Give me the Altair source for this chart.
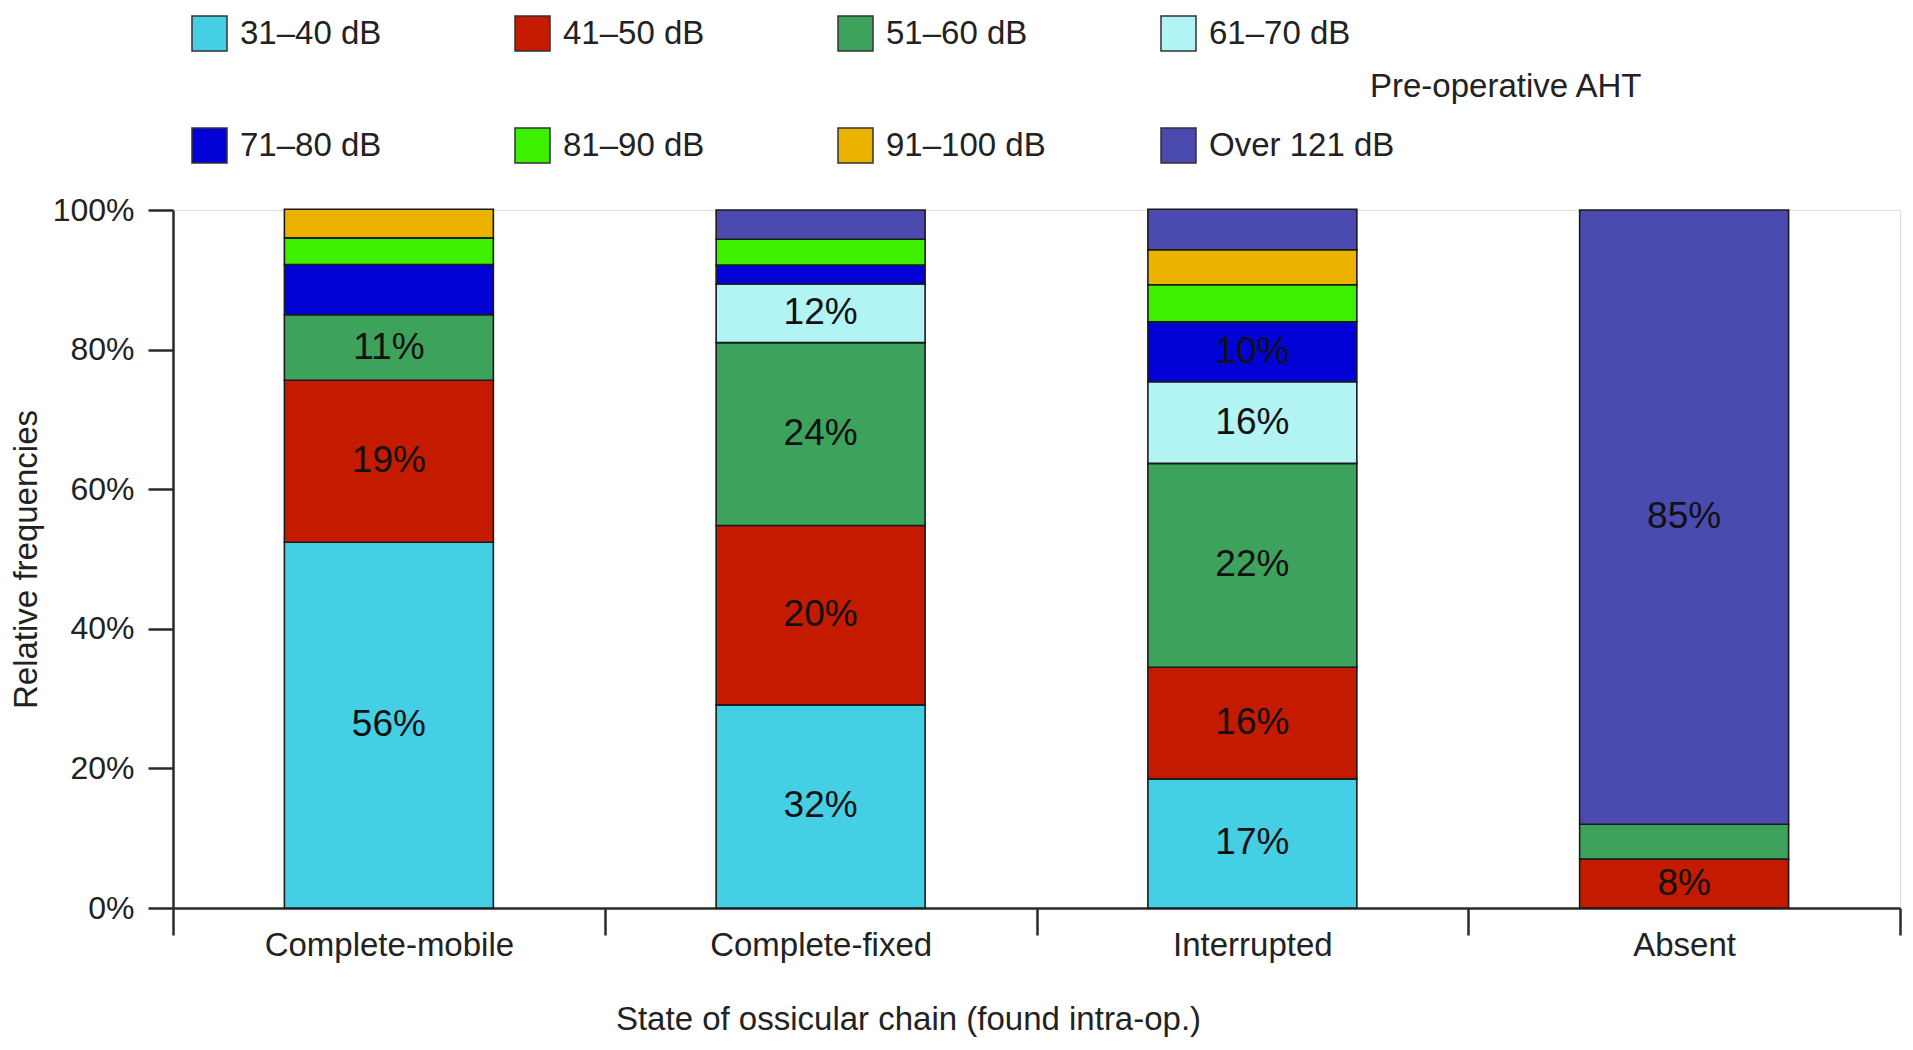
import altair as alt
import pandas as pd

categories = ["Complete-mobile", "Complete-fixed", "Interrupted", "Absent"]
levels = ["31–40 dB", "41–50 dB", "51–60 dB", "61–70 dB",
          "71–80 dB", "81–90 dB", "91–100 dB", "Over 121 dB"]
colors = ["#44CFE5", "#C41A00", "#3DA25C", "#B2F4F4",
          "#0202D6", "#3CF000", "#EBB300", "#4A4AAF"]

# drawn segment heights (% of bar), per hearing-threshold level, one value per category
v_31_40 = [52.4, 29.1, 18.5, 0.0]
v_41_50 = [23.2, 25.7, 16.0, 7.0]
v_51_60 = [9.4, 26.2, 29.2, 5.0]
v_61_70 = [0.0, 8.4, 11.7, 0.0]
v_71_80 = [7.2, 2.7, 8.6, 0.0]
v_81_90 = [3.8, 3.7, 5.3, 0.0]
v_91_100 = [4.1, 0.0, 5.0, 0.0]
v_over_121 = [0.0, 4.2, 5.8, 88.0]

# printed labels inside the segments
l_31_40 = ["56%", "32%", "17%", ""]
l_41_50 = ["19%", "20%", "16%", "8%"]
l_51_60 = ["11%", "24%", "22%", ""]
l_61_70 = ["", "12%", "16%", ""]
l_71_80 = ["", "", "10%", ""]
l_81_90 = ["", "", "", ""]
l_91_100 = ["", "", "", ""]
l_over_121 = ["", "", "", "85%"]

legend_title = "Pre-operative AHT"
x_title = "State of ossicular chain (found intra-op.)"
y_title = "Relative frequencies"
y_ticks = [0, 20, 40, 60, 80, 100]

all_values = [v_31_40, v_41_50, v_51_60, v_61_70, v_71_80, v_81_90, v_91_100, v_over_121]
all_labels = [l_31_40, l_41_50, l_51_60, l_61_70, l_71_80, l_81_90, l_91_100, l_over_121]

rows = []
for li, (lev, vals, labs) in enumerate(zip(levels, all_values, all_labels)):
    for ci, cat in enumerate(categories):
        rows.append({"cat": cat, "level": lev, "order": li,
                     "value": vals[ci], "label": labs[ci]})
df = pd.DataFrame(rows)

FONT = "Liberation Sans"
AX = "#2a2a2a"

base = (
    alt.Chart(df)
    .transform_filter(alt.datum.value > 0)
    .transform_stack(stack="value", groupby=["cat"], as_=["y0", "y1"],
                     sort=[alt.SortField("order", order="ascending")])
    .transform_calculate(mid="(datum.y0 + datum.y1) / 2")
)

x_axis = alt.Axis(
    title=x_title, tickBand="extent", tickSize=27, tickWidth=2.5, tickColor=AX,
    domainWidth=2.5, domainColor=AX, labelAngle=0, labelFontSize=33,
    labelColor="#222", labelFont=FONT, labelLimit=600, labelPadding=10,
    labelBaseline="middle", titleFontSize=33, titleFontWeight="normal",
    titleFont=FONT, titleColor="#222", titleX=735, titleY=111,
    titleAlign="center", titleBaseline="middle", grid=False,
)
y_axis = alt.Axis(
    title=y_title, values=y_ticks, labelExpr="datum.value + '%'",
    tickSize=25, tickWidth=2.5, tickColor=AX, domainWidth=2.5, domainColor=AX,
    labelFontSize=32, labelColor="#222", labelFont=FONT, labelPadding=14,
    titleFontSize=33, titleFontWeight="normal", titleFont=FONT, titleColor="#222",
    titleX=-147, titleY=349, titleAngle=270, titleAlign="center",
    titleBaseline="middle", grid=False,
)
x_scale = alt.Scale(domain=categories, paddingInner=0, paddingOuter=0)
y_scale = alt.Scale(domain=[0, 100], nice=False)

bars = base.mark_bar(
    stroke="#1a1a1a", strokeWidth=1.6, width=alt.RelativeBandSize(0.484)
).encode(
    x=alt.X("cat:N", sort=categories, scale=x_scale, axis=x_axis),
    y=alt.Y("y1:Q", scale=y_scale, axis=y_axis),
    y2="y0:Q",
    color=alt.Color(
        "level:N",
        scale=alt.Scale(domain=levels, range=colors),
        legend=alt.Legend(
            title=None, orient="none", legendX=18, legendY=-195,
            direction="horizontal", columns=4, gridAlign="all",
            symbolType="square", symbolSize=1225, symbolStrokeColor="#333",
            symbolStrokeWidth=1.5, symbolOpacity=1, labelFontSize=33,
            labelFont=FONT, labelColor="#222", labelLimit=400, labelOffset=12,
            rowPadding=71, columnPadding=86, padding=0,
        ),
    ),
)

texts = base.transform_filter(alt.datum.label != "").mark_text(
    fontSize=37, font=FONT, color="#111", baseline="middle", align="center"
).encode(
    x=alt.X("cat:N", sort=categories, scale=x_scale, axis=x_axis),
    y=alt.Y("mid:Q", scale=y_scale, axis=y_axis),
    text="label:N",
)

title_text = alt.Chart(pd.DataFrame({"t": [legend_title]})).mark_text(
    align="left", baseline="middle", fontSize=33, font=FONT, color="#222"
).encode(x=alt.value(1197), y=alt.value(-123), text="t:N")

chart = (
    alt.layer(bars, texts, title_text)
    .properties(
        width=1727, height=698,
        padding={"left": 165, "top": 202, "right": 5, "bottom": 130},
        autosize=alt.AutoSizeParams(type="none"),
    )
    .configure_view(stroke=None)
    .configure(font=FONT)
)

chart.save("out.html", embed_options={"renderer": "svg", "actions": False})
